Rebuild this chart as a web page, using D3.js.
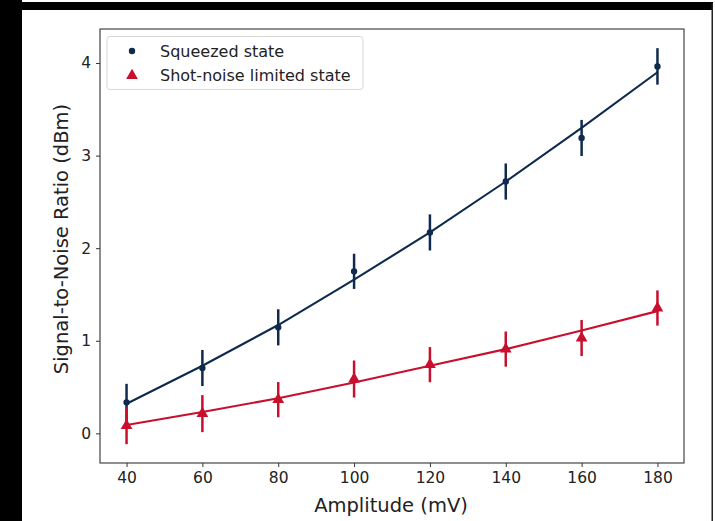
<!DOCTYPE html>
<html><head><meta charset="utf-8">
<script src="https://cdn.jsdelivr.net/npm/d3@7"></script>
<style>html,body{margin:0;padding:0;background:#fff;}svg{display:block;}</style>
</head><body>
<svg id="chart" width="715" height="521"></svg>
<script>
const amplitudes = [40, 60, 80, 100, 120, 140, 160, 180];
const squeezedSNR = [0.335, 0.706, 1.145, 1.75, 2.17, 2.72, 3.19, 3.963];
const squeezedErr = [0.2, 0.195, 0.195, 0.19, 0.195, 0.195, 0.195, 0.197];
const squeezedFit = [0.32, 0.73, 1.17, 1.66, 2.17, 2.72, 3.30, 3.90];
const shotSNR = [0.083, 0.213, 0.364, 0.587, 0.742, 0.91, 1.03, 1.354];
const shotErr = [0.2, 0.2, 0.19, 0.2, 0.19, 0.19, 0.195, 0.19];
const shotFit = [0.09, 0.23, 0.38, 0.55, 0.73, 0.91, 1.11, 1.32];
const xTicks = [40, 60, 80, 100, 120, 140, 160, 180];
const yTicks = [0, 1, 2, 3, 4];
const legendLabels = ["Squeezed state", "Shot-noise limited state"];

const navy = "#0f2a4d", red = "#c8102e";
const font = "'DejaVu Sans', sans-serif";
const svg = d3.select("#chart");
const W = 715, H = 521;
const L = 100, R = 684, T = 29, B = 463;

// frame (screenshot borders)
svg.append("rect").attr("x", 0).attr("y", 0).attr("width", W).attr("height", H).attr("fill", "#fff");
svg.append("rect").attr("x", 0).attr("y", 0).attr("width", 22).attr("height", H).attr("fill", "#000");
svg.append("rect").attr("x", 0).attr("y", 2).attr("width", 713).attr("height", 8).attr("fill", "#000");
svg.append("rect").attr("x", 711.5).attr("y", 3).attr("width", 1.5).attr("height", H).attr("fill", "#222");

const x = d3.scaleLinear().domain([33, 187]).range([L, R]);
const y = d3.scaleLinear().domain([-0.32, 4.367]).range([B, T]);

// axes
const xAxis = d3.axisBottom(x).tickValues(xTicks).tickSize(4).tickPadding(5).tickFormat(d3.format("d"));
const yAxis = d3.axisLeft(y).tickValues(yTicks).tickSize(4).tickPadding(5).tickFormat(d3.format("d"));
const gx = svg.append("g").attr("transform", `translate(0,${B})`).call(xAxis);
const gy = svg.append("g").attr("transform", `translate(${L},0)`).call(yAxis);
[gx, gy].forEach(g => {
  g.select(".domain").remove();
  g.selectAll(".tick line").attr("stroke", "#333").attr("stroke-width", 1);
  g.selectAll(".tick text").attr("fill", "#222").style("font-family", font).style("font-size", "15.5px");
});

// spines
svg.append("rect").attr("x", L).attr("y", T).attr("width", R - L).attr("height", B - T)
  .attr("fill", "none").attr("stroke", "#333").attr("stroke-width", 1.1);

// axis labels
svg.append("text").attr("x", 391).attr("y", 512).attr("text-anchor", "middle")
  .style("font-family", font).style("font-size", "19.5px").attr("fill", "#222").text("Amplitude (mV)");
svg.append("text").attr("transform", `translate(68,239) rotate(-90)`).attr("text-anchor", "middle")
  .style("font-family", font).style("font-size", "19.5px").attr("fill", "#222").text("Signal-to-Noise Ratio (dBm)");

const plot = svg.append("g");
function series(vals, errs, fit, color, marker) {
  const d = amplitudes.map((a, i) => ({a, v: vals[i], e: errs[i], f: fit[i]}));
  plot.append("g").selectAll("line").data(d).join("line")
    .attr("x1", p => x(p.a)).attr("x2", p => x(p.a))
    .attr("y1", p => y(p.v - p.e)).attr("y2", p => y(p.v + p.e))
    .attr("stroke", color).attr("stroke-width", 2.5);
  plot.append("path").datum(d)
    .attr("d", d3.line().x(p => x(p.a)).y(p => y(p.f)))
    .attr("fill", "none").attr("stroke", color).attr("stroke-width", 2.1);
  const sym = marker === "dot" ? d3.symbol(d3.symbolCircle, 32) : d3.symbol(d3.symbolTriangle, 60);
  plot.append("g").selectAll("path").data(d).join("path")
    .attr("transform", p => `translate(${x(p.a)},${y(p.v)})`)
    .attr("d", sym).attr("fill", color);
}
series(squeezedSNR, squeezedErr, squeezedFit, navy, "dot");
series(shotSNR, shotErr, shotFit, red, "tri");

// legend
const lg = svg.append("g");
lg.append("rect").attr("x", 107).attr("y", 36.5).attr("width", 256).attr("height", 53).attr("rx", 3)
  .attr("fill", "#fff").attr("fill-opacity", 0.85).attr("stroke", "#d8d8d8").attr("stroke-width", 1);
const lgColors = [navy, red];
legendLabels.forEach((lab, i) => {
  const cy = 51 + i * 24.5;
  lg.append("path").attr("transform", `translate(132,${cy})`)
    .attr("d", i === 0 ? d3.symbol(d3.symbolCircle, 32)() : d3.symbol(d3.symbolTriangle, 60)())
    .attr("fill", lgColors[i]);
  lg.append("text").attr("x", 160).attr("y", cy).attr("dy", "0.35em")
    .style("font-family", font).style("font-size", "16px").attr("fill", "#222").text(lab);
});
</script>
</body></html>
